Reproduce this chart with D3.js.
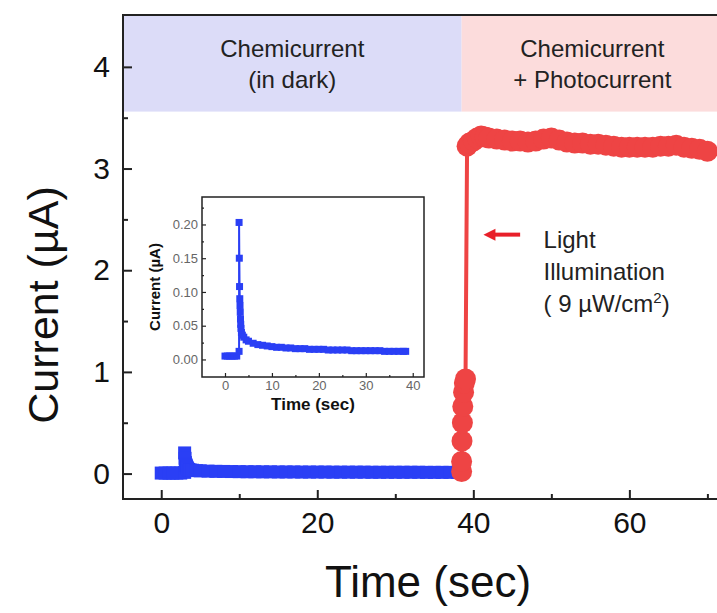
<!DOCTYPE html>
<html>
<head>
<meta charset="utf-8">
<script src="https://cdn.jsdelivr.net/npm/d3@7"></script>
<style>
  body { margin: 0; background: #fff; }
  svg text { font-family: Arial, "Liberation Sans", sans-serif; }
</style>
</head>
<body>
<svg width="717" height="613"></svg>
<script>
// chemicurrent in dark (blue squares), sec / uA
var darkTime = [0, 0.5, 1, 1.5, 2, 2.5, 3.0, 3.0, 3.05, 3.1, 3.15, 3.2, 3.25, 3.3, 3.35, 3.4, 3.5, 3.7, 4, 4.5, 5, 6, 7, 8, 9, 10, 11, 12, 13, 14, 15, 16, 17, 18, 19, 20, 21, 22, 23, 24, 25, 26, 27, 28, 29, 30, 31, 32, 33, 34, 35, 36, 37, 38, 38.5];
var darkCurrent = [0.005, 0.005, 0.005, 0.005, 0.005, 0.005, 0.012, 0.203, 0.150, 0.108, 0.090, 0.080, 0.070, 0.060, 0.052, 0.046, 0.040, 0.036, 0.033, 0.029, 0.027, 0.024, 0.022, 0.021, 0.020, 0.019, 0.018, 0.018, 0.017, 0.017, 0.016, 0.016, 0.016, 0.015, 0.015, 0.015, 0.015, 0.014, 0.014, 0.014, 0.014, 0.014, 0.013, 0.013, 0.013, 0.013, 0.013, 0.013, 0.013, 0.012, 0.012, 0.012, 0.012, 0.012, 0.012];

// chemicurrent + photocurrent (red circles)
var lightTime = [38.5, 38.5, 38.55, 38.6, 38.65, 38.75, 38.85, 39.0, 39.2, 39.5, 40, 40.5, 41, 41.5, 42, 43, 44, 45, 46, 47, 48, 49, 50, 51, 52, 53, 54, 55, 56, 57, 58, 59, 60, 61, 62, 63, 64, 65, 66, 67, 68, 69, 70];
var lightCurrent = [0.02, 0.12, 0.32, 0.50, 0.66, 0.80, 0.89, 0.93, 3.22, 3.25, 3.27, 3.30, 3.32, 3.31, 3.30, 3.29, 3.28, 3.27, 3.27, 3.26, 3.27, 3.29, 3.30, 3.28, 3.26, 3.25, 3.25, 3.24, 3.24, 3.23, 3.22, 3.21, 3.21, 3.21, 3.21, 3.21, 3.22, 3.22, 3.23, 3.21, 3.20, 3.19, 3.17];

var xTicks = [0, 20, 40, 60];
var yTicks = [0, 1, 2, 3, 4];
var insetXTicks = [0, 10, 20, 30, 40];
var insetYTicks = [0, 0.05, 0.10, 0.15, 0.20];
var lightOnTime = 38.5;
var bandBottom = 3.56;

var svg = d3.select("svg");
var blue = "#2a3ff5";
var red = "#ee4444";

var x = d3.scaleLinear().domain([-4.9, 72]).range([123, 723]);
var y = d3.scaleLinear().domain([-0.25, 4.51]).range([499, 15]);

var darkData = darkTime.map(function (t, i) { return { t: t, v: darkCurrent[i] }; });
var lightData = lightTime.map(function (t, i) { return { t: t, v: lightCurrent[i] }; });

// background bands
svg.append("rect")
	.attr("x", x(-4.9)).attr("y", y(4.51))
	.attr("width", x(lightOnTime) - x(-4.9))
	.attr("height", y(bandBottom) - y(4.51))
	.style("fill", "#dcdcf8");
svg.append("rect")
	.attr("x", x(lightOnTime)).attr("y", y(4.51))
	.attr("width", x(72) - x(lightOnTime))
	.attr("height", y(bandBottom) - y(4.51))
	.style("fill", "#fcdcdc");

var bandText = [
	{ cx: (x(-4.9) + x(lightOnTime)) / 2, lines: ["Chemicurrent", "(in dark)"] },
	{ cx: (x(lightOnTime) + x(72)) / 2, lines: ["Chemicurrent", "+ Photocurrent"] }
];
bandText.forEach(function (b) {
	b.lines.forEach(function (s, i) {
		svg.append("text")
			.attr("x", b.cx).attr("y", 57 + i * 31)
			.attr("text-anchor", "middle")
			.style("font-size", "24px").style("fill", "#222")
			.text(s);
	});
});

// blue series (main)
var line = d3.line().x(function (d) { return x(d.t); }).y(function (d) { return y(d.v); });
svg.append("path").datum(darkData)
	.attr("d", line).style("fill", "none").style("stroke", blue).style("stroke-width", 3);
svg.append("g").selectAll("rect").data(darkData).enter().append("rect")
	.attr("x", function (d) { return x(d.t) - 6.5; })
	.attr("y", function (d) { return y(d.v) - 6.5; })
	.attr("width", 13).attr("height", 13)
	.style("fill", blue);

// red series
svg.append("path").datum(lightData)
	.attr("d", line).style("fill", "none").style("stroke", red).style("stroke-width", 4);
svg.append("g").selectAll("circle").data(lightData).enter().append("circle")
	.attr("cx", function (d) { return x(d.t); })
	.attr("cy", function (d) { return y(d.v); })
	.attr("r", 10.5)
	.style("fill", red);

// axes (ticks point inward)
var gx = svg.append("g").attr("transform", "translate(0," + y.range()[0] + ")")
	.call(d3.axisBottom(x).tickValues(xTicks).tickSize(-9).tickPadding(13));
svg.append("g").attr("transform", "translate(0," + y.range()[0] + ")")
	.call(d3.axisBottom(x).tickValues([10, 30, 50, 70]).tickSize(-5).tickFormat(""));
var gy = svg.append("g").attr("transform", "translate(" + x.range()[0] + ",0)")
	.call(d3.axisLeft(y).tickValues(yTicks).tickSize(-9).tickPadding(13).tickFormat(d3.format("d")));
svg.append("g").attr("transform", "translate(" + x.range()[0] + ",0)")
	.call(d3.axisLeft(y).tickValues([0.5, 1.5, 2.5, 3.5]).tickSize(-5).tickFormat(""));
svg.selectAll(".domain").remove();
svg.selectAll(".tick line").style("stroke", "#222").style("stroke-width", 2);
gx.selectAll("text").style("font-size", "30px").style("fill", "#111");
gy.selectAll("text").style("font-size", "30px").style("fill", "#111");

svg.append("rect")
	.attr("x", x.range()[0]).attr("y", y.range()[1])
	.attr("width", x.range()[1] - x.range()[0])
	.attr("height", y.range()[0] - y.range()[1])
	.style("fill", "none").style("stroke", "#222").style("stroke-width", 2);

svg.append("text")
	.attr("x", 428).attr("y", 597)
	.attr("text-anchor", "middle")
	.style("font-size", "44px").style("fill", "#111")
	.text("Time (sec)");
svg.append("text")
	.attr("transform", "translate(58,305) rotate(-90)")
	.attr("text-anchor", "middle")
	.style("font-size", "43px").style("fill", "#111")
	.text("Current (\u00b5A)");

// light arrow + note
var arrowY = y(2.35);
svg.append("line")
	.attr("x1", x(46)).attr("x2", x(41.3) + 10)
	.attr("y1", arrowY).attr("y2", arrowY)
	.style("stroke", "#e8202a").style("stroke-width", 4);
svg.append("path")
	.attr("d", "M" + x(41.3) + "," + arrowY + "l12,-6l0,12z")
	.style("fill", "#e8202a");
var note = svg.append("text")
	.attr("x", x(49)).attr("y", 248)
	.style("font-size", "24px").style("fill", "#222");
note.append("tspan").attr("x", x(49)).attr("y", 248).text("Light");
note.append("tspan").attr("x", x(49)).attr("y", 280).text("Illumination");
note.append("tspan").attr("x", x(49)).attr("y", 312).text("( 9 \u00b5W/cm");
note.append("tspan").attr("dy", -9).style("font-size", "15px").text("2");
note.append("tspan").attr("dy", 9).text(")");

// inset
var xi = d3.scaleLinear().domain([-4.9, 42.4]).range([202, 424]);
var yi = d3.scaleLinear().domain([-0.026, 0.2407]).range([377, 197]);
var inset = svg.append("g");
inset.append("rect")
	.attr("x", 202).attr("y", 197).attr("width", 222).attr("height", 180)
	.style("fill", "#fff");

var lineI = d3.line().x(function (d) { return xi(d.t); }).y(function (d) { return yi(d.v); });
inset.append("path").datum(darkData)
	.attr("d", lineI).style("fill", "none").style("stroke", blue).style("stroke-width", 2);
inset.append("g").selectAll("rect").data(darkData).enter().append("rect")
	.attr("x", function (d) { return xi(d.t) - 3.5; })
	.attr("y", function (d) { return yi(d.v) - 3.5; })
	.attr("width", 7).attr("height", 7)
	.style("fill", blue);

var gxi = inset.append("g").attr("transform", "translate(0,377)")
	.call(d3.axisBottom(xi).tickValues(insetXTicks).tickSize(-4).tickPadding(4));
inset.append("g").attr("transform", "translate(0,377)")
	.call(d3.axisBottom(xi).tickValues([5, 15, 25, 35]).tickSize(-2).tickFormat(""));
var gyi = inset.append("g").attr("transform", "translate(202,0)")
	.call(d3.axisLeft(yi).tickValues(insetYTicks).tickSize(-4).tickPadding(4).tickFormat(d3.format(".2f")));
inset.append("g").attr("transform", "translate(202,0)")
	.call(d3.axisLeft(yi).tickValues([0.025, 0.075, 0.125, 0.175, 0.225]).tickSize(-2).tickFormat(""));
inset.selectAll(".domain").remove();
inset.selectAll(".tick line").style("stroke", "#222").style("stroke-width", 1.2);
inset.selectAll(".tick text").style("font-size", "13px").style("fill", "#666");

inset.append("rect")
	.attr("x", 202).attr("y", 197).attr("width", 222).attr("height", 180)
	.style("fill", "none").style("stroke", "#222").style("stroke-width", 1.5);
inset.append("text")
	.attr("x", 313).attr("y", 410)
	.attr("text-anchor", "middle")
	.style("font-size", "17px").style("font-weight", "bold").style("fill", "#111")
	.text("Time (sec)");
inset.append("text")
	.attr("transform", "translate(160,287) rotate(-90)")
	.attr("text-anchor", "middle")
	.style("font-size", "15px").style("font-weight", "bold").style("fill", "#111")
	.text("Current (\u00b5A)");
</script>
</body>
</html>
